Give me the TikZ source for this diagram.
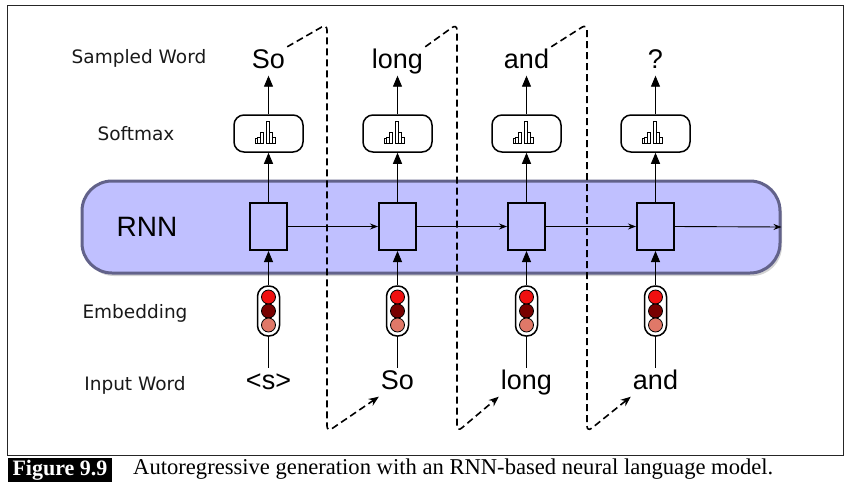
\documentclass[tikz,border=0pt]{standalone}
\usepackage{fontspec}
\setmainfont{Liberation Sans}
\newfontfamily\labelfont{DejaVu Sans}
\newfontfamily\capfont{Liberation Serif}
\usetikzlibrary{arrows.meta,shadows}

\definecolor{rnnfill}{HTML}{C0C0FF}
\definecolor{rnnedge}{HTML}{62628A}
\definecolor{lampA}{HTML}{F01010}
\definecolor{lampB}{HTML}{780000}
\definecolor{lampC}{HTML}{E07868}

\tikzset{
  rowlabel/.style={font=\labelfont\fontsize{18.5}{18.5}\selectfont, text=black!90},
  word/.style={font=\fontsize{27}{27}\selectfont, inner sep=2pt, text height=19pt, text depth=5.5pt, anchor=base},
  cell/.style={draw, line width=2pt, fill=rnnfill, minimum width=37pt, minimum height=47pt, inner sep=0pt},
  softbox/.style={draw, line width=1.5pt, fill=white, rounded corners=10pt, minimum width=69pt, minimum height=37pt, inner sep=0pt},
  lightbox/.style={draw, line width=1.5pt, fill=white, rounded corners=10.5pt, minimum width=22pt, minimum height=50pt, inner sep=0pt},
  lamp/.style={draw, line width=0.8pt, circle, minimum size=14pt, inner sep=0pt},
  uparrow/.style={line width=0.9pt, -{Triangle[length=11pt,width=9pt]}},
  flow/.style={line width=0.9pt, -{Stealth[length=8pt,width=6pt]}},
  feedback/.style={line width=1.6pt, dash pattern=on 7pt off 4pt, rounded corners=6pt, -{Stealth[length=10pt,width=8pt]}},
  histbar/.style={draw, line width=0.8pt, fill=white}
}

% small histogram drawn inside a softmax box
\newcommand{\histo}[1]{%
  \begin{scope}[shift={(#1)}]
    \draw[histbar] (-13.5,9.5) rectangle (-10.8,5);
    \draw[histbar] (-10.8,9.5) rectangle (-8,3.8);
    \draw[histbar] (-7.8,9.5) rectangle (-5,-0.8);
    \draw[histbar] (-2.4,9.5) rectangle (0.6,-12.5);
    \draw[histbar] (0.6,9.5) rectangle (3.4,-1.6);
    \draw[histbar] (3.8,9.5) rectangle (6.6,4);
  \end{scope}}

\begin{document}
\begin{tikzpicture}[x=1pt,y=-1pt]
  \useasboundingbox (0,0) rectangle (852,496);

  % frame
  \draw[line width=0.9pt, black!85] (7,5) rectangle (843,455);

  % recurrent layer
  \node[draw=rnnedge, line width=3pt, fill=rnnfill, rounded corners=30pt,
        minimum width=698pt, minimum height=92pt, inner sep=0pt,
        drop shadow={shadow xshift=2pt, shadow yshift=-3pt, opacity=0.35}]
        (rnn) at (431,227) {};
  \node[font=\fontsize{28}{28}\selectfont] (rnnlabel) at (147,227) {RNN};

  % row labels
  \node[rowlabel] (lsampled) at (139,58) {Sampled Word};
  \node[rowlabel] (lsoftmax) at (136,134) {Softmax};
  \node[rowlabel] (lembed) at (135,313) {Embedding};
  \node[rowlabel] (linput) at (135,385) {Input Word};

  % four time steps
  \foreach \i/\x/\inw/\outw in {1/268.5/{<s>}/So, 2/397.5/So/long, 3/526.5/long/and, 4/655.5/and/?} {
    \node[cell] (h\i) at (\x,226.5) {};
    \node[softbox] (sm\i) at (\x,133.5) {};
    \histo{sm\i.center}
    \node[lightbox] (emb\i) at (\x,311) {};
    \node[lamp, fill=lampA] (la\i) at (\x,297) {};
    \node[lamp, fill=lampB] (lb\i) at (\x,311) {};
    \node[lamp, fill=lampC] (lc\i) at (\x,325) {};
    \node[word] (sw\i) at (\x,68) {\outw};
    \node[word] (iw\i) at (\x,389) {\inw};
    \draw[line width=0.9pt] (iw\i.north) -- (emb\i.south);
    \draw[uparrow] (emb\i.north) -- (h\i.south);
    \draw[uparrow] (h\i.north) -- (sm\i.south);
    \draw[uparrow] (sm\i.north) -- (sw\i.south);
  }

  % hidden state passed along in time
  \draw[flow] (h1.east) -- (h2.west);
  \draw[flow] (h2.east) -- (h3.west);
  \draw[flow] (h3.east) -- (h4.west);
  \draw[flow] (h4.east) -- (rnn.east);

  % sampled word fed back as the next input
  \coordinate (t1) at (327,24);  \coordinate (b1) at (327,432);
  \coordinate (t2) at (457,24);  \coordinate (b2) at (457,432);
  \coordinate (t3) at (587,24);  \coordinate (b3) at (587,432);
  \draw[feedback] (sw1.north east) -- (t1) -- (b1) -- (iw2.south west);
  \draw[feedback] (sw2.north east) -- (t2) -- (b2) -- (iw3.south west);
  \draw[feedback] (sw3.north east) -- (t3) -- (b3) -- (iw4.south west);

  % caption
  \node[fill=black, text=white, font=\capfont\bfseries\fontsize{22}{22}\selectfont,
        minimum width=104pt, minimum height=24pt, inner sep=0pt] (fig) at (60,470) {Figure 9.9};
  \node[font=\capfont\fontsize{22.6}{22.6}\selectfont, anchor=west, inner sep=0pt] (cap) at (133,469)
        {Autoregressive generation with an RNN-based neural language model.};
\end{tikzpicture}
\end{document}
